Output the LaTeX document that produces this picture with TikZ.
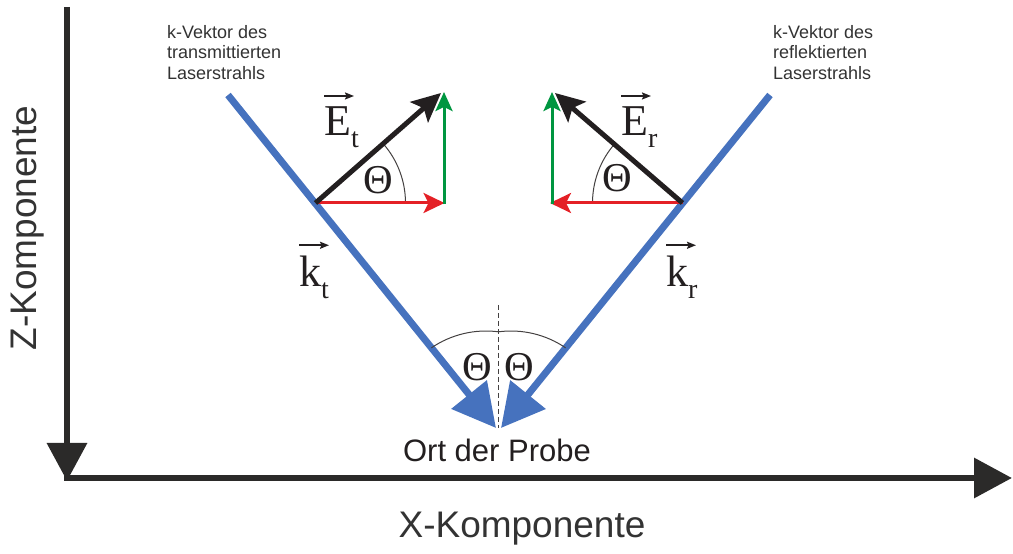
\documentclass[tikz,border=0pt]{standalone}
\usepackage{fontspec}
\setmainfont{Liberation Sans}
\newfontfamily\serifface{Liberation Serif}
\usetikzlibrary{arrows.meta}
\definecolor{axisc}{RGB}{43,42,41}
\definecolor{beam}{RGB}{70,114,190}
\definecolor{redc}{RGB}{228,32,38}
\definecolor{greenc}{RGB}{0,150,64}
\definecolor{blackc}{RGB}{35,31,32}
\definecolor{txt}{RGB}{51,51,51}
\tikzset{
  axisline/.style={draw=axisc, line width=6.5pt, -{Triangle[length=38pt,width=39pt]}},
  beamline/.style={draw=beam, line width=7pt, -{Triangle[length=43pt,width=44pt]}},
  evec/.style={draw=blackc, line width=5pt, -{Stealth[length=29pt,width=27pt,inset=6pt]}},
  hvec/.style={draw=redc, line width=3pt, -{Stealth[length=21pt,width=20pt,inset=5pt]}},
  vvec/.style={draw=greenc, line width=3pt, -{Stealth[length=19pt,width=17pt,inset=4pt]}},
  anglearc/.style={draw=blackc!85, line width=1pt},
  normal/.style={draw=blackc!85, line width=1.2pt, dash pattern=on 5pt off 3pt},
  bigsym/.style={inner sep=0pt, text=blackc, font=\serifface\fontsize{44}{44}\selectfont},
  thetalbl/.style={inner sep=0pt, text=blackc, font=\serifface\fontsize{41}{41}\selectfont},
  smalltxt/.style={inner sep=0pt, text=txt, align=left, font=\fontsize{18}{20.5}\selectfont},
  axistxt/.style={inner sep=0pt, text=txt, font=\fontsize{37}{37}\selectfont},
  overarrow/.style={draw=blackc, line width=1.6pt, -{Stealth[length=9pt,width=7pt,inset=1.5pt]}},
}
\newcommand{\lowsub}[1]{\raisebox{-12pt}{\fontsize{28}{28}\selectfont #1}}
\begin{document}
\begin{tikzpicture}[x=1pt,y=1pt]
\useasboundingbox (0,0) rectangle (1013,554);
% axes
\coordinate (ztop) at (67,547);
\coordinate (ztip) at (67,73);
\coordinate (xstart) at (63.75,76);
\coordinate (xtip) at (1012,76);
\draw[axisline] (ztop) -- (ztip);
\draw[axisline] (xstart) -- (xtip);
\node[axistxt, rotate=90] (zlab) at (28,326) {Z-Komponente};
\node[axistxt, anchor=base] (xlab) at (522,16) {X-Komponente};
% beams
\coordinate (tstart) at (228,459);
\coordinate (ttip) at (496,126);
\coordinate (rstart) at (770,459);
\coordinate (rtip) at (501,126);
\coordinate (ntop) at (498.5,249);
\coordinate (nbot) at (498.5,126);
\draw[normal] (ntop) -- (nbot);
\draw[beamline] (tstart) -- (ttip);
\draw[beamline] (rstart) -- (rtip);
\node[inner sep=0pt, text=blackc, anchor=base, font=\fontsize{31}{31}\selectfont] (probe) at (497,92) {Ort der Probe};
% bottom angles
\coordinate (lc) at (486,126);
\coordinate (rc) at (511,126);
\draw[anglearc] ([shift={(82.6:97)}]lc) arc[start angle=82.6, end angle=124.3, radius=97];
\draw[anglearc] ([shift={(97.4:97)}]rc) arc[start angle=97.4, end angle=55.7, radius=97];
\node[thetalbl] (th1) at (477,187) {Θ};
\node[thetalbl] (th2) at (519,187) {Θ};
% transmitted E vector
\coordinate (ot) at (315.5,351);
\coordinate (etip) at (441,461);
\coordinate (hxt) at (444.5,351);
\coordinate (vbt) at (444,349.5);
\coordinate (vtt) at (444,462);
\draw[anglearc] ([shift={(0:90)}]ot) arc[start angle=0, end angle=41.3, radius=90];
\draw[hvec] (ot) -- (hxt);
\draw[vvec] (vbt) -- (vtt);
\draw[evec] (ot) -- (etip);
\node[thetalbl] (th3) at (378,374) {Θ};
% reflected E vector
\coordinate (or) at (682.5,351);
\coordinate (ertip) at (555,461);
\coordinate (hxr) at (550,351);
\coordinate (vbr) at (552,349.5);
\coordinate (vtr) at (552,462);
\draw[anglearc] ([shift={(180:90)}]or) arc[start angle=180, end angle=138.7, radius=90];
\draw[hvec] (or) -- (hxr);
\draw[vvec] (vbr) -- (vtr);
\draw[evec] (or) -- (ertip);
\node[thetalbl] (th4) at (617,376) {Θ};
% labels
\node[bigsym, anchor=base west] (Et) at (324,418) {E\lowsub{t}};
\draw[overarrow] ([shift={(0,11)}]Et.north west) -- ++(30,0);
\node[bigsym, anchor=base west] (Er) at (621,418) {E\lowsub{r}};
\draw[overarrow] ([shift={(0,11)}]Er.north west) -- ++(30,0);
\node[bigsym, anchor=base west] (kt) at (299,267) {k\lowsub{t}};
\draw[overarrow] ([shift={(0,11)}]kt.north west) -- ++(30,0);
\node[bigsym, anchor=base west] (kr) at (666,267) {k\lowsub{r}};
\draw[overarrow] ([shift={(0,11)}]kr.north west) -- ++(30,0);
\node[smalltxt, anchor=north west] (tlab) at (167,529) {k-Vektor des\\transmittierten\\Laserstrahls};
\node[smalltxt, anchor=north west] (rlab) at (773,529) {k-Vektor des\\reflektierten\\Laserstrahls};
\end{tikzpicture}
\end{document}
